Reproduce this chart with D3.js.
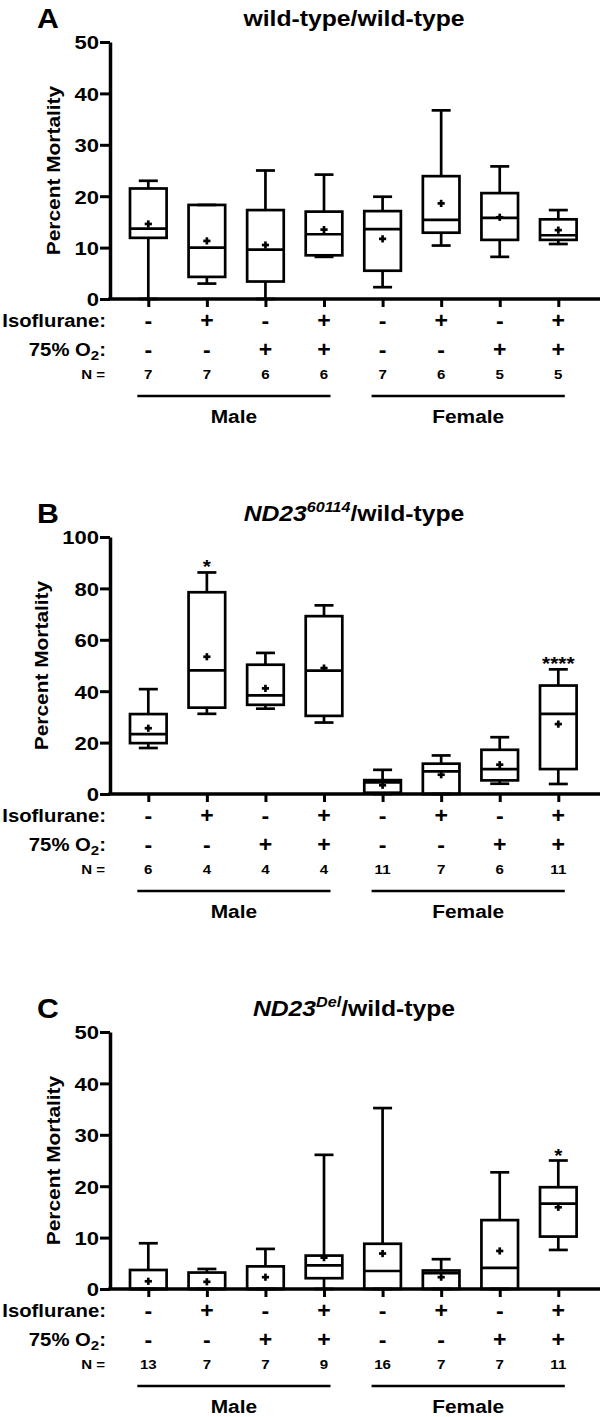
<!DOCTYPE html>
<html>
<head>
<meta charset="utf-8">
<script src="https://cdn.jsdelivr.net/npm/d3@7"></script>
<style>
  html, body { margin: 0; padding: 0; background: #fff; }
  svg { display: block; font-family: "Liberation Sans", Arial, Helvetica, sans-serif; }
  text { font-weight: bold; fill: #000; }
</style>
</head>
<body>
<svg id="chart" width="601" height="1417"></svg>
<script>
// ---------- data ----------
const categories = ["M1", "M2", "M3", "M4", "F1", "F2", "F3", "F4"];
const isoflurane = ["-", "+", "-", "+", "-", "+", "-", "+"];
const oxygen     = ["-", "-", "+", "+", "-", "-", "+", "+"];
const groups = ["Male", "Female"];
const groupMembers = [["M1", "M4"], ["F1", "F4"]];

const ticksA = [0, 10, 20, 30, 40, 50];
const ticksB = [0, 20, 40, 60, 80, 100];
const ticksC = [0, 10, 20, 30, 40, 50];

// Panel A: wild-type/wild-type
const minA    = [0, 3.0, 0, 8.2, 2.3, 10.4, 8.2, 10.7];
const q1A     = [11.9, 4.3, 3.4, 8.5, 5.5, 12.9, 11.5, 11.5];
const medianA = [13.7, 10.0, 9.6, 12.6, 13.6, 15.4, 15.8, 12.4];
const q3A     = [21.5, 18.3, 17.3, 17.0, 17.1, 23.9, 20.6, 15.5];
const maxA    = [23.0, 18.3, 25.0, 24.2, 19.9, 36.7, 25.8, 17.3];
const meanA   = [14.6, 11.3, 10.5, 13.5, 11.7, 18.6, 15.9, 13.4];
const nA      = [7, 7, 6, 6, 7, 6, 5, 5];
const starsA  = ["", "", "", "", "", "", "", ""];

// Panel B: ND23^60114/wild-type
const minB    = [17.9, 31.2, 33.2, 27.8, 0, 0, 4.0, 3.9];
const q1B     = [19.8, 33.6, 34.7, 30.4, 0.5, 0, 5.3, 9.7];
const medianB = [23.3, 48.1, 38.4, 48.0, 4.5, 8.8, 9.7, 31.2];
const q3B     = [31.1, 78.5, 50.3, 69.2, 5.4, 11.8, 17.2, 42.2];
const maxB    = [40.8, 86.2, 54.9, 73.4, 9.4, 15.0, 22.1, 48.5];
const meanB   = [25.6, 53.4, 41.1, 49.0, 3.4, 7.5, 11.4, 27.2];
const nB      = [6, 4, 4, 4, 11, 7, 6, 11];
const starsB  = ["", "*", "", "", "", "", "", "****"];

// Panel C: ND23^Del/wild-type
const minC    = [0, 0, 0, 0, 0, 0, 0, 7.6];
const q1C     = [0, 0, 0, 2.1, 0, 0, 0, 10.2];
const medianC = [0, 0, 0, 4.6, 3.5, 3.1, 4.1, 16.6];
const q3C     = [3.7, 3.2, 4.4, 6.5, 8.8, 3.6, 13.4, 19.8];
const maxC    = [8.9, 3.9, 7.8, 26.1, 35.2, 5.8, 22.7, 25.0];
const meanC   = [1.5, 1.4, 2.3, 6.1, 6.9, 2.3, 7.4, 15.9];
const nC      = [13, 7, 7, 9, 16, 7, 7, 11];
const starsC  = ["", "", "", "", "", "", "", "*"];

const yLabel = "Percent Mortality";

// ---------- layout ----------
const SX = 1.16;          // horizontal text stretch
const axisX = 110, axisRight = 600;
const x = d3.scalePoint().domain(categories).range([148.3, 558.3]);

function rows(min, q1, med, q3, max, mean, n, stars) {
  return categories.map((c, i) => ({c, min: min[i], q1: q1[i], med: med[i], q3: q3[i], max: max[i], mean: mean[i], n: n[i], star: stars[i]}));
}

const panels = [
  {letter: "A", title: [{t: "wild-type/wild-type"}], ticks: ticksA, top: 42, bottom: 299,
   rows: rows(minA, q1A, medianA, q3A, maxA, meanA, nA, starsA)},
  {letter: "B", title: [{t: "ND23", it: true}, {t: "60114", it: true, sup: true}, {t: "/wild-type"}], ticks: ticksB, top: 537, bottom: 794,
   rows: rows(minB, q1B, medianB, q3B, maxB, meanB, nB, starsB)},
  {letter: "C", title: [{t: "ND23", it: true}, {t: "Del", it: true, sup: true}, {t: "/wild-type"}], ticks: ticksC, top: 1032, bottom: 1289,
   rows: rows(minC, q1C, medianC, q3C, maxC, meanC, nC, starsC)}
];

const svg = d3.select("#chart");
svg.append("rect").attr("width", 601).attr("height", 1417).attr("fill", "#fff");

function sText(g, px, py, str, size, anchor, sx) {
  return g.append("text")
    .attr("transform", `translate(${px},${py}) scale(${sx == null ? SX : sx},1)`)
    .attr("text-anchor", anchor || "middle")
    .style("font-size", size + "px")
    .text(str);
}

panels.forEach(p => {
  const g = svg.append("g");
  const y = d3.scaleLinear().domain([0, d3.max(p.ticks)]).range([p.bottom, p.top]);
  const y0 = y(0);

  // panel letter
  sText(g, 37, p.top - 14, p.letter, 28, "start", 1.08);

  // title
  const tt = g.append("text")
    .attr("transform", `translate(354,${p.top - 16}) scale(1.15,1)`)
    .attr("text-anchor", "middle")
    .style("font-size", "21.5px");
  p.title.forEach((s, k) => {
    const ts = tt.append("tspan").text(s.t);
    if (s.it) ts.style("font-style", "italic");
    if (s.sup) ts.style("font-size", "14px").attr("dy", -9);
    else if (k > 0 && p.title[k - 1].sup) ts.attr("dy", 9);
  });

  // y axis
  const yAxis = d3.axisLeft(y).tickValues(p.ticks).tickSize(10).tickSizeOuter(0);
  const ya = g.append("g").attr("transform", `translate(${axisX},0)`).call(yAxis);
  ya.select(".domain").attr("stroke", "#000").attr("stroke-width", 3.5);
  ya.selectAll(".tick line").attr("stroke", "#000").attr("stroke-width", 3).attr("x2", -10);
  ya.selectAll(".tick text")
    .attr("x", null).attr("dy", null)
    .attr("transform", `translate(-11,6.8) scale(${SX},1)`)
    .attr("text-anchor", "end")
    .attr("font-family", null).attr("font-size", null)
    .style("font-size", "19px").style("font-weight", "bold");

  // y axis title
  let minLeft = Infinity;
  ya.selectAll(".tick text").each(function () {
    const b = this.getBoundingClientRect();
    minLeft = Math.min(minLeft, b.left);
  });
  const ty = (p.top + p.bottom) / 2;
  g.append("text")
    .attr("transform", `translate(${minLeft - 14},${ty}) rotate(-90) scale(${SX},1)`)
    .attr("text-anchor", "middle")
    .style("font-size", "18px")
    .text(yLabel);

  // x axis ticks
  const xAxis = d3.axisBottom(x).tickSize(8).tickSizeOuter(0).tickFormat("");
  const xa = g.append("g").attr("transform", `translate(0,${y0})`).call(xAxis);
  xa.select(".domain").remove();
  xa.selectAll(".tick line").attr("stroke", "#000").attr("stroke-width", 3);
  g.append("line").attr("x1", axisX - 1.75).attr("x2", axisRight).attr("y1", y0).attr("y2", y0)
    .attr("stroke", "#000").attr("stroke-width", 3.5);

  // boxes
  const hw = 18.3, cw = 9.5, sw = 2.7;
  const bx = g.append("g").attr("stroke", "#000").attr("stroke-width", sw).attr("fill", "none");
  p.rows.forEach(d => {
    const cx = x(d.c);
    bx.append("line").attr("x1", cx).attr("x2", cx).attr("y1", y(d.max)).attr("y2", y(d.q3));
    bx.append("line").attr("x1", cx).attr("x2", cx).attr("y1", y(d.q1)).attr("y2", y(d.min));
    bx.append("line").attr("x1", cx - cw).attr("x2", cx + cw).attr("y1", y(d.max)).attr("y2", y(d.max));
    bx.append("line").attr("x1", cx - cw).attr("x2", cx + cw).attr("y1", y(d.min)).attr("y2", y(d.min));
    bx.append("rect").attr("x", cx - hw).attr("width", 2 * hw)
      .attr("y", y(d.q3)).attr("height", Math.max(0, y(d.q1) - y(d.q3)));
    bx.append("line").attr("x1", cx - hw).attr("x2", cx + hw).attr("y1", y(d.med)).attr("y2", y(d.med));
    const my = y(d.mean);
    bx.append("line").attr("x1", cx - 3.6).attr("x2", cx + 3.6).attr("y1", my).attr("y2", my);
    bx.append("line").attr("x1", cx).attr("x2", cx).attr("y1", my - 3.6).attr("y2", my + 3.6);
    if (d.star) sText(g, cx, y(d.max) + 1, d.star, 18, "middle");
  });

  // row labels
  const rIso = y0 + 21.5, rO2 = y0 + 50.5, rN = y0 + 75.5, rLine = y0 + 97, rGroup = y0 + 117;
  sText(g, 106, rIso + 6.3, "Isoflurane:", 17.5, "end");
  const o2 = g.append("text")
    .attr("transform", `translate(106,${rO2 + 6.3}) scale(${SX},1)`)
    .attr("text-anchor", "end").style("font-size", "17.5px");
  o2.append("tspan").text("75% O");
  o2.append("tspan").text("2").style("font-size", "13px").attr("dy", 4);
  o2.append("tspan").text(":").attr("dy", -4);
  sText(g, 105, rN + 4.7, "N =", 13, "end");

  categories.forEach((c, i) => {
    sText(g, x(c), rIso + 7.3, isoflurane[i], 22, "middle", 1.05);
    sText(g, x(c), rO2 + 7.3, oxygen[i], 22, "middle", 1.05);
    sText(g, x(c), rN + 4.7, String(p.rows[i].n), 13, "middle");
  });

  groups.forEach((gr, k) => {
    const [a, b] = groupMembers[k];
    const x1 = x(a) - 11, x2 = x(b) + 6.5;
    g.append("line").attr("x1", x1).attr("x2", x2).attr("y1", rLine).attr("y2", rLine)
      .attr("stroke", "#000").attr("stroke-width", 2.6);
    sText(g, (x1 + x2) / 2, rGroup + 6.8, gr, 19, "middle", 1.1);
  });
});
</script>
</body>
</html>
